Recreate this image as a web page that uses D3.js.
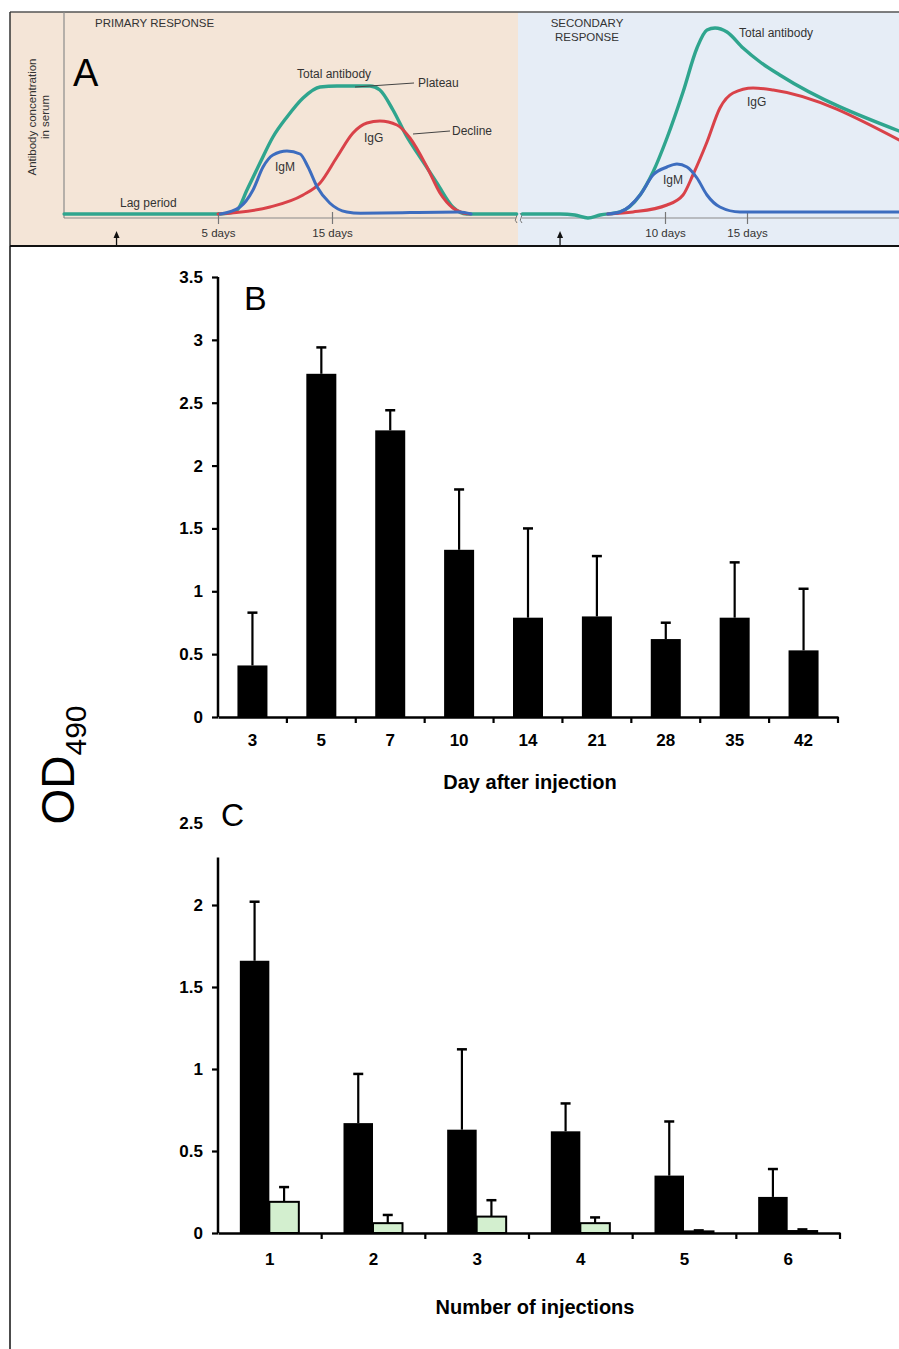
<!DOCTYPE html>
<html><head><meta charset="utf-8">
<script src="https://cdn.jsdelivr.net/npm/d3@7"></script>
<style>
html,body{margin:0;padding:0;background:#fff;}
svg text{font-family:"Liberation Sans",Arial,sans-serif;}
</style></head>
<body>
<svg id="chart" width="899" height="1349"></svg>
<script>
// ---------- Panel A data: [day, relative concentration] ----------
const primaryTotal = [[-8.5,0],[5,0],[5.8,0.3],[6.67,2],[7.54,12],[8.68,25.5],[9.82,38.5],[11.05,48.5],[12.46,58],[13.95,63.5],[15.44,64],[18.33,64],[19.2,62],[20.35,52],[21.58,38.5],[22.72,28.5],[24.2,15.5],[25.6,3.5],[26.8,0],[31.2,0]];
const primaryIgM = [[5.2,0],[6.93,3.5],[8.07,12],[8.95,23.5],[9.82,29.5],[11.05,31.5],[12.2,30],[12.9,23.5],[13.7,13.5],[14.8,5.5],[16.3,1],[17.5,0.4],[26.2,1],[27.2,0]];
const primaryIgG = [[5,0],[9.56,3.5],[12.46,9.5],[13.95,15.5],[15.44,28.5],[16.84,40.5],[18.07,45.5],[19.2,46.5],[20.7,44.5],[21.84,38],[23.33,23.5],[24.47,10.5],[25.6,3],[26.5,0.5],[27.1,0]];
const secondaryTotal = [[1.3,0],[3.6,0],[4.5,-0.5],[5.3,-2],[6.04,-0.5],[7.26,1],[8.48,9.5],[9.27,21],[10.12,38],[11.1,61],[11.95,83],[12.56,92],[13.05,93],[13.78,91],[14.76,83],[15.8,76],[17.0,69.5],[24.27,41.5]];
const secondaryIgG = [[6.5,0],[8.05,1],[10.12,4.5],[11.1,9.5],[11.7,19.5],[12.56,36],[13.35,53],[14.15,60.5],[15.37,63],[16.6,62],[24.27,37]];
const secondaryIgM = [[6.5,0],[7.26,1],[8.48,9.5],[9.27,19.5],[10.12,23.5],[10.73,25],[11.34,23.5],[11.95,18],[12.56,9.5],[13.35,3.5],[14.57,1],[24.27,1]];
const primaryTicks = [5,15];
const secondaryTicks = [10,15];
const injectionPrimary = -3.9;
const injectionSecondary = 3.6;

// ---------- Panel B data ----------
const daysB = ["3","5","7","10","14","21","28","35","42"];
const odB  = [0.41,2.73,2.28,1.33,0.79,0.80,0.62,0.79,0.53];
const errB = [0.42,0.21,0.16,0.48,0.71,0.48,0.13,0.44,0.49];
const yTicksB = [0,0.5,1,1.5,2,2.5,3,3.5];

// ---------- Panel C data ----------
const injectionsC = ["1","2","3","4","5","6"];
const odC1  = [1.66,0.67,0.63,0.62,0.35,0.22];
const errC1 = [0.36,0.30,0.49,0.17,0.33,0.17];
const odC2  = [0.19,0.06,0.10,0.06,0.01,0.012];
const errC2 = [0.09,0.05,0.10,0.035,0.006,0.01];
const yTicksC = [0,0.5,1,1.5,2,2.5];

const svg = d3.select("#chart");
svg.append("rect").attr("width",899).attr("height",1349).attr("fill","#fff");

// ================= PANEL A =================
const A = svg.append("g");
A.append("rect").attr("x",10).attr("y",12).attr("width",508).attr("height",234).attr("fill","#f4e5d7");
A.append("rect").attr("x",518).attr("y",12).attr("width",381).attr("height",234).attr("fill","#e6edf6");
A.append("line").attr("x1",10).attr("x2",899).attr("y1",12).attr("y2",12).attr("stroke","#555").attr("stroke-width",1.5);
A.append("line").attr("x1",10).attr("x2",10).attr("y1",12).attr("y2",246).attr("stroke","#333").attr("stroke-width",1.5);

const xL = d3.scaleLinear().domain([5,15]).range([218,332]);
const xR = d3.scaleLinear().domain([10,15]).range([665,747]);
const yA = d3.scaleLinear().domain([0,100]).range([214,14]);
const axisY = 218;

A.append("line").attr("x1",64).attr("x2",64).attr("y1",12).attr("y2",axisY).attr("stroke","#8a8a8a").attr("stroke-width",1.2);
A.append("line").attr("x1",64).attr("x2",516).attr("y1",axisY).attr("y2",axisY).attr("stroke","#8a8a8a").attr("stroke-width",1.2);
A.append("line").attr("x1",522).attr("x2",899).attr("y1",axisY).attr("y2",axisY).attr("stroke","#8a8a8a").attr("stroke-width",1.2);
[516,521].forEach(x=>{
  A.append("path").attr("d",`M${x-1},${axisY-5} Q${x+2},${axisY-2} ${x},${axisY} Q${x-2},${axisY+2} ${x+1},${axisY+5}`)
   .attr("fill","none").attr("stroke","#777").attr("stroke-width",1);
});

function dayAxis(scale, ticks){
  const g = A.append("g").attr("transform",`translate(0,${axisY})`)
    .call(d3.axisBottom(scale).tickValues(ticks).tickFormat(d=>d+" days").tickSize(6));
  g.select(".domain").remove();
  g.selectAll(".tick line").attr("y1",-6).attr("y2",6).attr("stroke","#777").attr("stroke-width",1.2);
  g.selectAll(".tick text").attr("y",11).attr("font-size",11.5).attr("fill","#333")
   .attr("font-family","Liberation Sans, Arial, sans-serif");
}
dayAxis(xL, primaryTicks);
dayAxis(xR, secondaryTicks);

const green="#2fa58e", red="#d94249", blue="#3d6dbf";
function curve(data, xs, color, w){
  const line = d3.line().x(d=>xs(d[0])).y(d=>yA(d[1])).curve(d3.curveMonotoneX);
  A.append("path").datum(data).attr("d",line).attr("fill","none").attr("stroke",color)
   .attr("stroke-width",w).attr("stroke-linejoin","round").attr("stroke-linecap","round");
}
curve(primaryTotal, xL, green, 3.4);
curve(primaryIgG, xL, red, 3);
curve(primaryIgM, xL, blue, 3);
curve(secondaryTotal, xR, green, 3.4);
curve(secondaryIgG, xR, red, 3);
curve(secondaryIgM, xR, blue, 3);

function arrow(x){
  A.append("line").attr("x1",x).attr("x2",x).attr("y1",246).attr("y2",236).attr("stroke","#111").attr("stroke-width",1.3);
  A.append("path").attr("d",`M${x-3},${238} L${x},${231} L${x+3},${238} Z`).attr("fill","#111");
}
arrow(xL(injectionPrimary));
arrow(xR(injectionSecondary));

const tA = (x,y,s,opts={})=>A.append("text").attr("x",x).attr("y",y).text(s)
  .attr("font-size",opts.size||12).attr("fill",opts.fill||"#333").attr("text-anchor",opts.anchor||"start");
tA(95,27,"PRIMARY RESPONSE",{size:11.5});
tA(587,27,"SECONDARY",{size:11.5,anchor:"middle"});
tA(587,41,"RESPONSE",{size:11.5,anchor:"middle"});
tA(120,207,"Lag period",{size:12});
tA(297,78,"Total antibody",{size:12});
tA(418,87,"Plateau",{size:12});
tA(452,135,"Decline",{size:12});
tA(364,142,"IgG",{size:12});
tA(275,171,"IgM",{size:12});
tA(739,37,"Total antibody",{size:12});
tA(747,106,"IgG",{size:12});
tA(663,184,"IgM",{size:12});
A.append("line").attr("x1",355).attr("y1",87).attr("x2",414).attr("y2",83).attr("stroke","#444").attr("stroke-width",1);
A.append("line").attr("x1",413).attr("y1",134).attr("x2",450).attr("y2",131).attr("stroke","#444").attr("stroke-width",1);
A.append("text").attr("transform","translate(36,117) rotate(-90)").attr("text-anchor","middle")
  .attr("font-size",11.5).attr("fill","#333").text("Antibody concentration");
A.append("text").attr("transform","translate(49,117) rotate(-90)").attr("text-anchor","middle")
  .attr("font-size",11.5).attr("fill","#333").text("in serum");
A.append("text").attr("x",73).attr("y",86).attr("font-size",38).attr("fill","#000").text("A");

svg.append("line").attr("x1",10).attr("x2",899).attr("y1",246).attr("y2",246).attr("stroke","#111").attr("stroke-width",2);
svg.append("line").attr("x1",10).attr("x2",10).attr("y1",246).attr("y2",1349).attr("stroke","#111").attr("stroke-width",1.5);

const od = svg.append("text").attr("transform","translate(74,765) rotate(-90)").attr("text-anchor","middle")
  .attr("font-size",46).attr("fill","#000");
od.append("tspan").text("OD");
od.append("tspan").attr("font-size",30).attr("dy",12).text("490");

// ================= PANEL B =================
const B = svg.append("g");
const xB = d3.scaleBand().domain(daysB).range([218,838]).padding(0);
const yB = d3.scaleLinear().domain([0,3.5]).range([717,277]);
const barW = 30;

const yAxB = B.append("g").attr("transform","translate(218,0)")
  .call(d3.axisLeft(yB).tickValues(yTicksB).tickFormat(d3.format("")).tickSize(6).tickPadding(9));
yAxB.select(".domain").attr("stroke","#000").attr("stroke-width",2.5).attr("d",`M0,${yB(3.5)}V${yB(0)}`);
yAxB.selectAll(".tick line").attr("stroke-width",2.2);
yAxB.selectAll(".tick text").attr("font-size",17).attr("font-weight","bold").attr("fill","#000")
  .attr("font-family","Liberation Sans, Arial, sans-serif");

const xAxB = B.append("g").attr("transform",`translate(0,${yB(0)})`)
  .call(d3.axisBottom(xB).tickSize(0).tickPadding(17));
xAxB.select(".domain").attr("stroke","#000").attr("stroke-width",2.5);
xAxB.selectAll(".tick text").attr("font-size",17).attr("font-weight","bold").attr("fill","#000")
  .attr("font-family","Liberation Sans, Arial, sans-serif");
B.selectAll(".bnd").data(daysB.slice(1).map(d=>xB(d)).concat([xB.range()[1]])).enter().append("line")
  .attr("x1",d=>d).attr("x2",d=>d).attr("y1",yB(0)).attr("y2",yB(0)+6).attr("stroke","#000").attr("stroke-width",2.2);

const dataB = daysB.map((d,i)=>({d, v:odB[i], e:errB[i]}));
B.selectAll(".err").data(dataB).enter().append("line")
  .attr("x1",d=>xB(d.d)+xB.bandwidth()/2).attr("x2",d=>xB(d.d)+xB.bandwidth()/2)
  .attr("y1",d=>yB(d.v)).attr("y2",d=>yB(d.v+d.e)).attr("stroke","#000").attr("stroke-width",2.2);
B.selectAll(".cap").data(dataB).enter().append("line")
  .attr("x1",d=>xB(d.d)+xB.bandwidth()/2-5).attr("x2",d=>xB(d.d)+xB.bandwidth()/2+5)
  .attr("y1",d=>yB(d.v+d.e)).attr("y2",d=>yB(d.v+d.e)).attr("stroke","#000").attr("stroke-width",2.5);
B.selectAll(".bar").data(dataB).enter().append("rect")
  .attr("x",d=>xB(d.d)+xB.bandwidth()/2-barW/2).attr("width",barW)
  .attr("y",d=>yB(d.v)).attr("height",d=>yB(0)-yB(d.v)).attr("fill","#000");

B.append("text").attr("x",530).attr("y",789).attr("text-anchor","middle").attr("font-size",20)
  .attr("font-weight","bold").text("Day after injection");
B.append("text").attr("x",244).attr("y",310).attr("font-size",34).text("B");

// ================= PANEL C =================
const C = svg.append("g");
const xC = d3.scaleBand().domain(injectionsC).range([218,840]).padding(0);
const xSub = d3.scaleBand().domain(["a","b"]).range([-30,29]).padding(0);
const yC = d3.scaleLinear().domain([0,2.5]).range([1233,823]);
const axisTopC = 2.29;

const yAxC = C.append("g").attr("transform","translate(218,0)")
  .call(d3.axisLeft(yC).tickValues(yTicksC).tickFormat(d3.format("")).tickSize(6).tickPadding(9));
yAxC.select(".domain").attr("stroke","#000").attr("stroke-width",2.5).attr("d",`M0,${yC(axisTopC)}V${yC(0)}`);
yAxC.selectAll(".tick line").attr("stroke-width",2.2).filter(d=>d>axisTopC).remove();
yAxC.selectAll(".tick text").attr("font-size",17).attr("font-weight","bold").attr("fill","#000")
  .attr("font-family","Liberation Sans, Arial, sans-serif");

const xAxC = C.append("g").attr("transform",`translate(0,${yC(0)})`)
  .call(d3.axisBottom(xC).tickSize(0).tickPadding(20));
xAxC.select(".domain").attr("stroke","#000").attr("stroke-width",2.5);
xAxC.selectAll(".tick text").attr("font-size",17).attr("font-weight","bold").attr("fill","#000")
  .attr("font-family","Liberation Sans, Arial, sans-serif");
C.selectAll(".bnd").data(injectionsC.slice(1).map(d=>xC(d)).concat([xC.range()[1]])).enter().append("line")
  .attr("x1",d=>d).attr("x2",d=>d).attr("y1",yC(0)).attr("y2",yC(0)+6).attr("stroke","#000").attr("stroke-width",2.2);

const dataC = [];
injectionsC.forEach((g,i)=>{
  dataC.push({g, s:"a", v:odC1[i], e:errC1[i]});
  dataC.push({g, s:"b", v:odC2[i], e:errC2[i]});
});
const cx = d=>xC(d.g)+xC.bandwidth()/2+xSub(d.s);
C.selectAll(".err").data(dataC).enter().append("line")
  .attr("x1",d=>cx(d)+xSub.bandwidth()/2).attr("x2",d=>cx(d)+xSub.bandwidth()/2)
  .attr("y1",d=>yC(d.v)).attr("y2",d=>yC(d.v+d.e)).attr("stroke","#000").attr("stroke-width",2.2);
C.selectAll(".cap").data(dataC).enter().append("line")
  .attr("x1",d=>cx(d)+xSub.bandwidth()/2-5).attr("x2",d=>cx(d)+xSub.bandwidth()/2+5)
  .attr("y1",d=>yC(d.v+d.e)).attr("y2",d=>yC(d.v+d.e)).attr("stroke","#000").attr("stroke-width",2.5);
C.selectAll(".bar").data(dataC).enter().append("rect")
  .attr("x",d=>cx(d)).attr("width",xSub.bandwidth())
  .attr("y",d=>yC(d.v)).attr("height",d=>yC(0)-yC(d.v))
  .attr("fill",d=>d.s==="a"?"#000":"#d3efcf")
  .attr("stroke","#000").attr("stroke-width",d=>d.s==="a"?0:2);

C.append("text").attr("x",535).attr("y",1314).attr("text-anchor","middle").attr("font-size",20)
  .attr("font-weight","bold").text("Number of injections");
C.append("text").attr("x",221).attr("y",826).attr("font-size",32).text("C");
</script>
</body></html>
